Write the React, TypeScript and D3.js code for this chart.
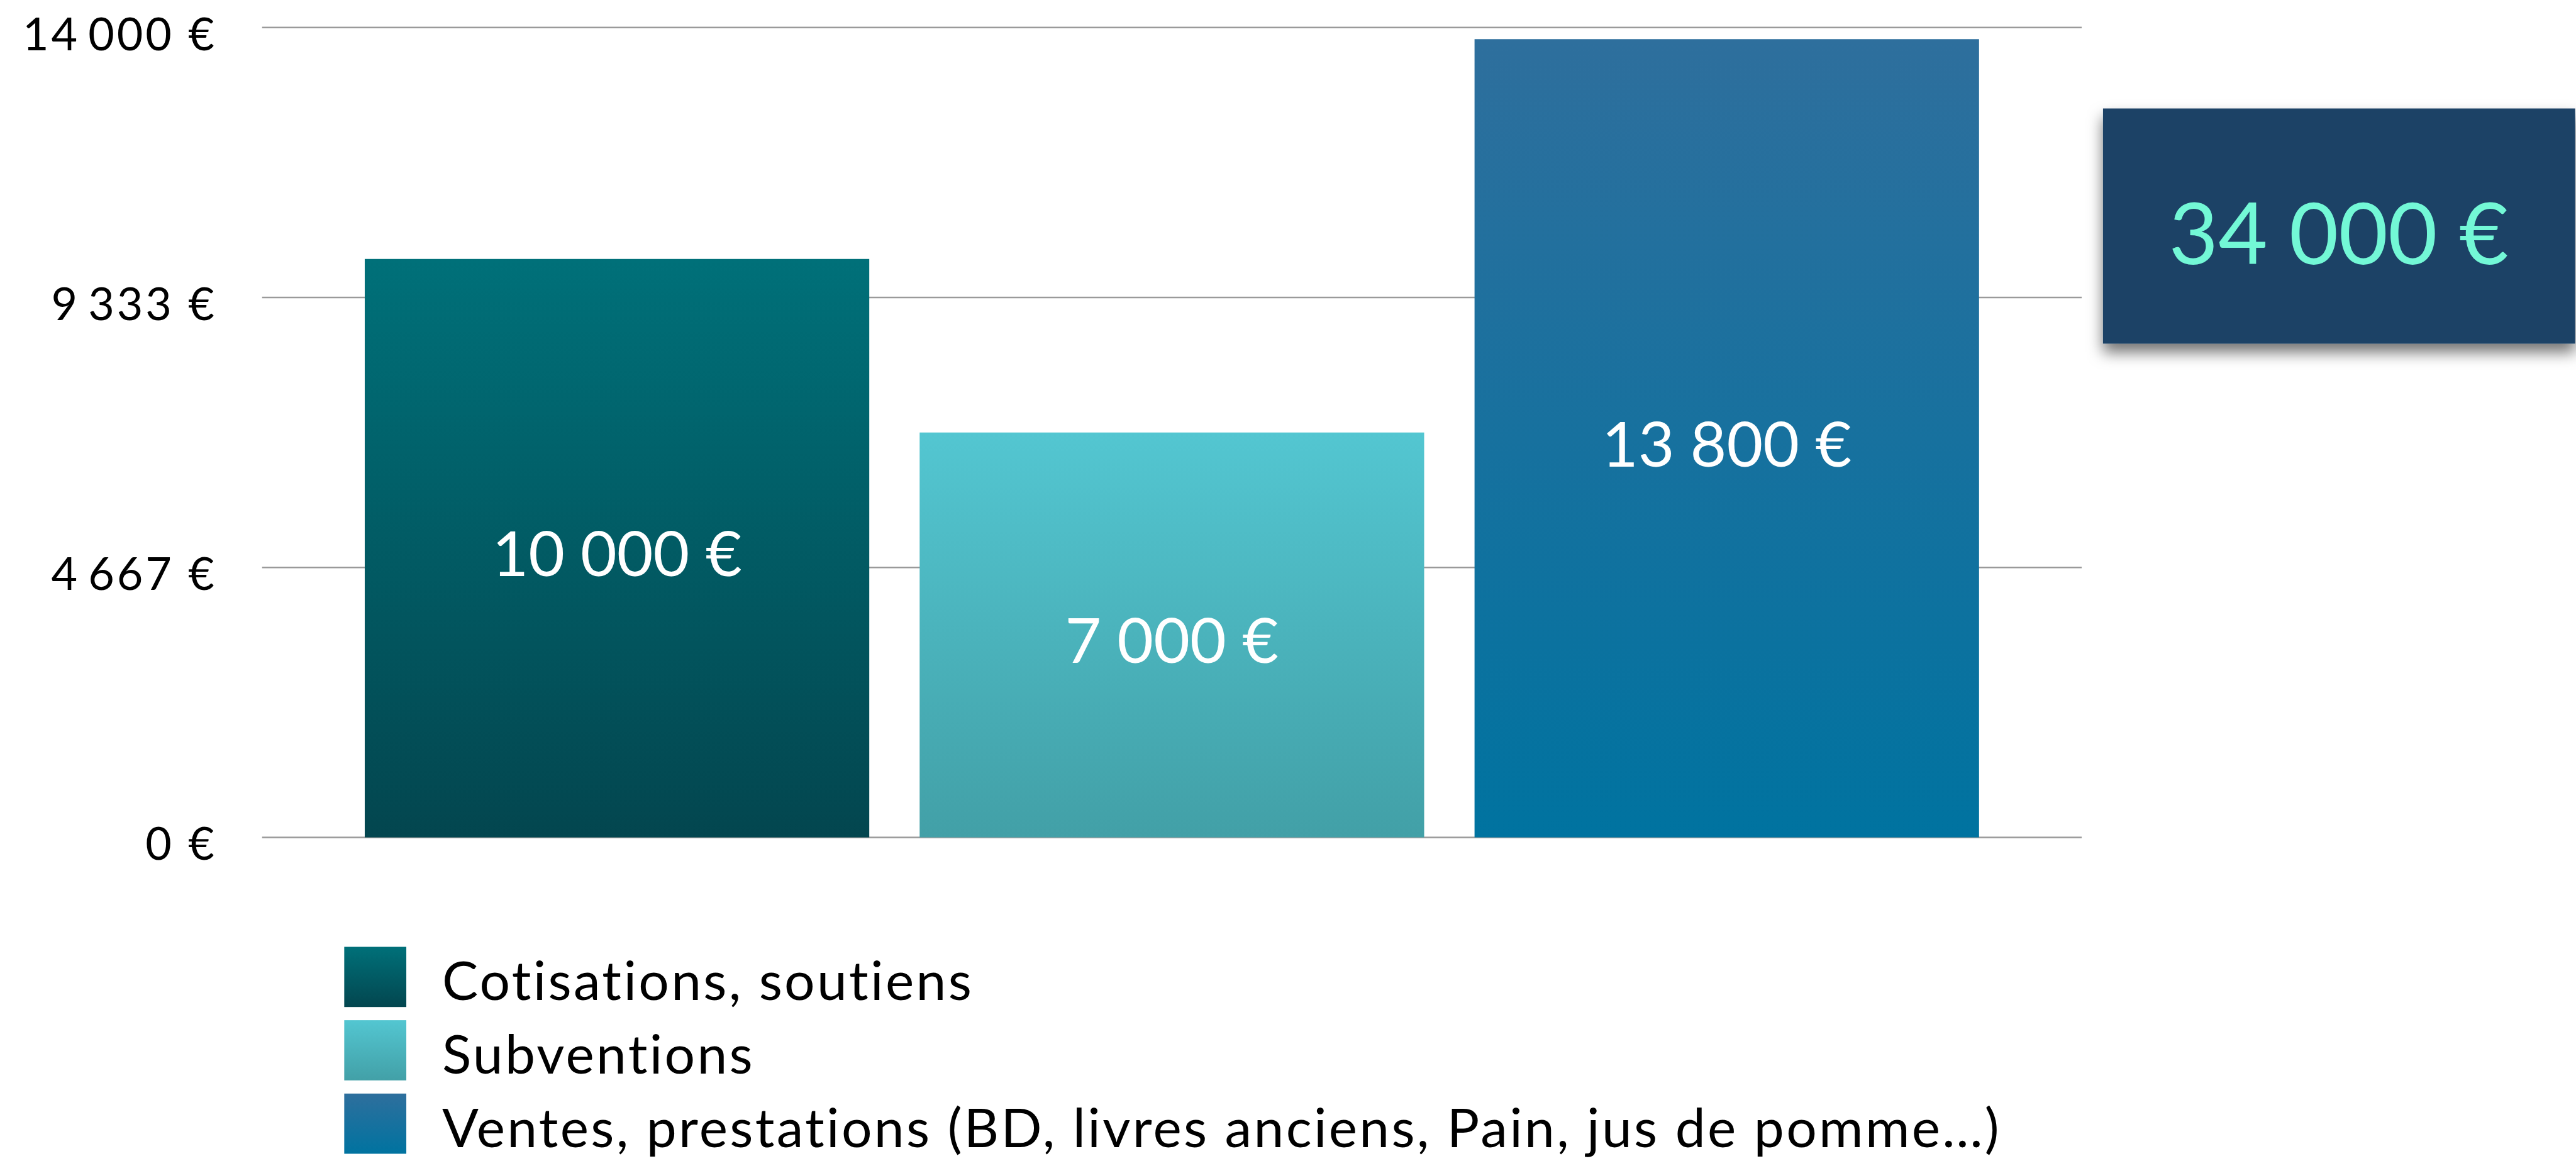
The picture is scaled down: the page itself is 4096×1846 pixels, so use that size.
import React from "react";
import * as d3 from "d3";

const categories = ["Cotisations, soutiens", "Subventions", "Ventes, prestations (BD, livres anciens, Pain, jus de pomme…)"];
const values = [10000, 7000, 13800];
const total = [34000];
const yMax = 14000;
const tickValues = [0, 14000 / 3, 28000 / 3, 14000];
const topColors = ["#007079", "#53c6d1", "#2e6f9d"];
const bottomColors = ["#03464f", "#42a0a7", "#0073a0"];

const fmtThin = d3.formatLocale({ decimal: ",", thousands: "\u2009", grouping: [3], currency: ["", " €"] }).format(",.0f");
const fmtNarrow = d3.formatLocale({ decimal: ",", thousands: "\u202f", grouping: [3], currency: ["", " €"] }).format(",.0f");
const euroTick = (v: number) => fmtThin(Math.round(v)) + "\u00a0€";
const euro = (v: number) => fmtNarrow(Math.round(v)) + "\u00a0€";

const S = 0.997;
const FONT = "Lato, 'Open Sans', sans-serif";

export default function App() {
  const y = d3.scaleLinear().domain([0, yMax]).range([1335.5, 44]);
  const x = d3.scaleBand<string>().domain(categories).range([418, 3320]).paddingInner(0.0908).paddingOuter(0.185);
  const bw = x.bandwidth();

  return (
    <svg width={4096} height={1846} style={{ position: "absolute", left: 0, top: 0, background: "#fff" }}>
      <defs>
        {categories.map((c, i) => (
          <linearGradient key={i} id={`g${i}`} x1="0" y1="0" x2="0" y2="1">
            <stop offset="0%" stopColor={topColors[i]} />
            <stop offset="100%" stopColor={bottomColors[i]} />
          </linearGradient>
        ))}
        <filter id="shadow" x="-10%" y="-10%" width="130%" height="140%">
          <feDropShadow dx="0" dy="14" stdDeviation="12" floodColor="#000" floodOpacity="0.55" />
        </filter>
      </defs>
      <g transform={`scale(${S})`}>
        {tickValues.map((t, i) => (
          <g key={i}>
            <line x1={418} x2={3320} y1={y(t)} y2={y(t)} stroke="#9a9a9a" strokeWidth={2.5} />
            <text x={346} y={y(t) + 36} textAnchor="end" fontFamily={FONT} fontSize={72} letterSpacing={4} fill="#000">
              {euroTick(t)}
            </text>
          </g>
        ))}
        {categories.map((c, i) => (
          <g key={i}>
            <rect x={x(c)} y={y(values[i])} width={bw} height={y(0) - y(values[i])} fill={`url(#g${i})`} />
            <text
              x={(x(c) as number) + bw / 2}
              y={(y(values[i]) + y(0)) / 2 + 45}
              textAnchor="middle"
              fontFamily={FONT}
              fontSize={100}
              fill="#fff"
            >
              {euro(values[i])}
            </text>
          </g>
        ))}
        <rect x={3354} y={173} width={753} height={375} fill="#1d4266" filter="url(#shadow)" />
        <text x={3730} y={421} textAnchor="middle" fontFamily={FONT} fontSize={136} fill="#73f8d6">
          {euro(total[0])}
        </text>
        {categories.map((c, i) => (
          <g key={i} transform={`translate(549, ${1510 + i * 117})`}>
            <rect x={0} y={0} width={99} height={96} fill={`url(#g${i})`} />
            <text x={156} y={85} fontFamily={FONT} fontSize={86} letterSpacing={3.3} fill="#000">
              {c}
            </text>
          </g>
        ))}
      </g>
    </svg>
  );
}
